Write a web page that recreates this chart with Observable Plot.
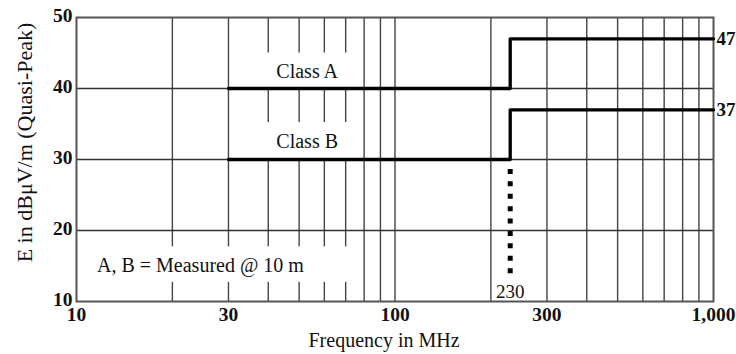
<!DOCTYPE html>
<html>
<head>
<meta charset="utf-8">
<script src="https://cdn.jsdelivr.net/npm/d3@7"></script>
<script src="https://cdn.jsdelivr.net/npm/@observablehq/plot@0.6"></script>
<style>
  html, body { margin: 0; padding: 0; background: white; }
</style>
</head>
<body>
<div id="chart"></div>
<script>
// Limit lines (step-after): frequency in MHz, level in dBµV/m
const freqA = [30, 230, 1000];
const levelA = [40, 47, 47];
const freqB = [30, 230, 1000];
const levelB = [30, 37, 37];

// Grid and ticks
const gridFreqs = [20, 30, 40, 50, 60, 70, 80, 90, 100, 200, 300, 400, 500, 600, 700, 800, 900];
const gridLevels = [20, 30, 40];
const xTicks = [10, 30, 100, 300, 1000];
const yTicks = [10, 20, 30, 40, 50];

// Annotations (data units)
const classLabels = ["Class A", "Class B"];
const classLabelFreq = [53, 53];
const classLabelLevel = [42.4, 32.5];
const endLabels = ["47", "37"];
const endLevels = [47, 37];
const noteText = "A, B = Measured @ 10 m";
const noteFreq = 24.5;
const noteLevel = 15.0;
const breakFreq = 230;
const breakDotsFrom = 28.6;
const breakDotsTo = 13.9;
const breakLabelLevel = 11.3;

// White boxes behind the labels that interrupt the grid
const boxFreq1 = [33, 33, 13];
const boxFreq2 = [76, 76, 76];
const boxLevel1 = [40, 30, 12.7];
const boxLevel2 = [45, 35.2, 17.7];

const lineA = freqA.map((f, i) => ({f, v: levelA[i]}));
const lineB = freqB.map((f, i) => ({f, v: levelB[i]}));
const boxes = boxFreq1.map((f, i) => ({x1: f, x2: boxFreq2[i], y1: boxLevel1[i], y2: boxLevel2[i]}));
const classData = classLabels.map((t, i) => ({t, f: classLabelFreq[i], v: classLabelLevel[i]}));
const endData = endLabels.map((t, i) => ({t, v: endLevels[i]}));

const chart = Plot.plot({
  width: 736,
  height: 354,
  marginLeft: 76,
  marginRight: 23,
  marginTop: 17,
  marginBottom: 53,
  style: {fontFamily: "'Liberation Serif', 'DejaVu Serif', serif", fontSize: "19px", color: "#111", background: "white"},
  x: {type: "log", domain: [10, 1000]},
  y: {domain: [10, 50]},
  marks: [
    Plot.ruleX(gridFreqs, {stroke: "#444", strokeWidth: 1.4}),
    Plot.rect(boxes, {x1: "x1", x2: "x2", y1: "y1", y2: "y2", fill: "white"}),
    Plot.ruleY(gridLevels, {stroke: "#333", strokeWidth: 1.6}),
    Plot.frame({stroke: "#555", strokeWidth: 2}),
    Plot.line(lineA, {x: "f", y: "v", curve: "step-after", stroke: "#000", strokeWidth: 3.3}),
    Plot.line(lineB, {x: "f", y: "v", curve: "step-after", stroke: "#000", strokeWidth: 3.3}),
    Plot.ruleX([breakFreq], {y1: breakDotsFrom, y2: breakDotsTo, stroke: "#000", strokeWidth: 5, strokeDasharray: "5,7.4"}),
    Plot.text([breakFreq], {x: d => d, y: breakLabelLevel, text: d => String(d), fontSize: 19, fill: "#111"}),
    Plot.text(classData, {x: "f", y: "v", text: "t", fontSize: 20, fill: "#111"}),
    Plot.text(endData, {x: 1000, y: "v", text: "t", textAnchor: "start", dx: 3, fontSize: 19, fontWeight: "bold", fill: "#111"}),
    Plot.text([noteText], {x: noteFreq, y: noteLevel, text: d => d, fontSize: 20, fill: "#111"}),
    Plot.axisX({ticks: xTicks, tickSize: 0, tickPadding: 6, tickFormat: d3.format(","), label: null, fontSize: 19.5, fontWeight: "bold"}),
    Plot.axisY({ticks: yTicks, tickSize: 0, tickPadding: 4, dy: -2, label: null, fontSize: 19.5, fontWeight: "bold"}),
    Plot.text(["Frequency in MHz"], {frameAnchor: "bottom", text: d => d, textAnchor: "middle", lineAnchor: "middle", dx: -11, dy: 39, fontSize: 20, fill: "#111"}),
    Plot.text(["E in dBμV/m (Quasi-Peak)"], {frameAnchor: "left", text: d => d, textAnchor: "middle", lineAnchor: "middle", rotate: -90, dx: -52, dy: -17, fontSize: 22, fill: "#111"})
  ]
});
document.getElementById("chart").appendChild(chart);
</script>
</body>
</html>
